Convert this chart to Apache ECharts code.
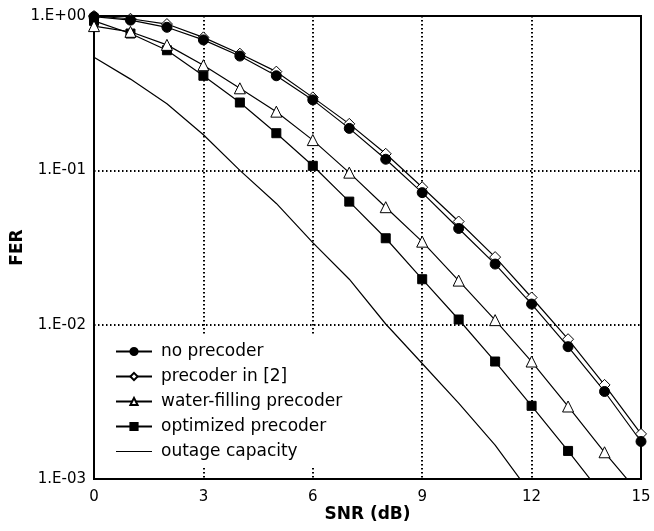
<!DOCTYPE html>
<html>
<head>
<meta charset="utf-8">
<script src="https://cdn.jsdelivr.net/npm/echarts@6/dist/echarts.min.js"></script>
<style>
  html, body { margin: 0; padding: 0; background: #fff; }
  #chart { width: 654px; height: 531px; }
</style>
</head>
<body>
<div id="chart"></div>
<script>
var myChart = echarts.init(document.getElementById('chart'));

// SNR (dB) points
var snr = [0, 1, 2, 3, 4, 5, 6, 7, 8, 9, 10, 11, 12, 13, 14, 15];
var xTicks = [0, 3, 6, 9, 12, 15];

// FER
var noPrecoder   = [0.99, 0.94, 0.845, 0.70, 0.55, 0.41, 0.286, 0.187, 0.118, 0.0717, 0.042, 0.0247, 0.0136, 0.0072, 0.00369, 0.00175];
var precoderIn2  = [1.0, 0.96, 0.887, 0.727, 0.57, 0.436, 0.297, 0.20, 0.128, 0.0777, 0.0466, 0.0274, 0.015, 0.00805, 0.00407, 0.00196];
var waterFilling = [0.86, 0.79, 0.65, 0.48, 0.34, 0.24, 0.157, 0.0966, 0.0577, 0.0345, 0.0193, 0.0107, 0.00577, 0.00295, 0.00149, 0.00078];
var optimized    = [0.93, 0.77, 0.60, 0.41, 0.275, 0.174, 0.107, 0.0627, 0.0363, 0.0197, 0.0108, 0.00577, 0.00298, 0.00152, 0.00076];
var outage       = [0.54, 0.39, 0.27, 0.17, 0.10, 0.061, 0.034, 0.0197, 0.0101, 0.0056, 0.0031, 0.00166, 0.00079];

var names = ['no precoder', 'precoder in [2]', 'water-filling precoder', 'optimized precoder', 'outage capacity'];

var font = 'DejaVu Sans';

function pairs(arr) {
    var list = [];
    for (var i = 0; i < arr.length; i++) {
        list.push([snr[i], arr[i]]);
    }
    return list;
}

function lineSeries(name, arr, symbol, size, fill) {
    return {
        name: name,
        type: 'line',
        data: pairs(arr),
        symbol: symbol,
        symbolSize: size,
        showSymbol: symbol !== 'none',
        lineStyle: { color: '#000', width: 1.2 },
        itemStyle: { color: fill, borderColor: '#000', borderWidth: 1 },
        emphasis: { disabled: true },
        animation: false
    };
}

// legend entries; the plain line gets a thin bar icon
var legendData = names.map(function (n) {
    if (n === 'outage capacity') {
        return { name: n, icon: 'path://M0,0 H36 V1.2 H0 Z', itemStyle: { color: '#000', borderWidth: 0 } };
    }
    return { name: n };
});

var option = {
    backgroundColor: '#fff',
    grid: {
        left: 94, right: 13, top: 16, bottom: 52,
        outerBoundsMode: 'none',
        containLabel: false,
        show: true,
        borderColor: '#000',
        borderWidth: 2
    },
    legend: {
        orient: 'vertical',
        left: 98,
        top: 335,
        data: legendData,
        backgroundColor: '#fff',
        padding: [8, 6, 8, 17],
        itemWidth: 36,
        itemHeight: 9,
        itemGap: 8,
        textStyle: { color: '#000', fontSize: 17, fontFamily: font, lineHeight: 17, padding: [0, 0, 0, 4] },
        selectedMode: false
    },
    xAxis: {
        type: 'value',
        min: 0, max: 15, interval: 3,
        name: 'SNR (dB)',
        nameLocation: 'middle',
        nameGap: 27,
        nameMoveOverlap: false,
        nameTextStyle: { color: '#000', fontSize: 17, fontWeight: 'bold', fontFamily: font },
        axisLine: { lineStyle: { color: '#000', width: 2 } },
        axisTick: { show: false },
        axisLabel: {
            color: '#000', fontSize: 15, fontFamily: font, margin: 11,
            customValues: xTicks
        },
        splitLine: { lineStyle: { color: '#000', width: 2, type: [1.5, 2.5] } }
    },
    yAxis: {
        type: 'log',
        logBase: 10,
        min: 0.001, max: 1,
        name: 'FER',
        nameLocation: 'middle',
        nameRotate: 90,
        nameGap: 68,
        nameMoveOverlap: false,
        nameTextStyle: { color: '#000', fontSize: 17, fontWeight: 'bold', fontFamily: font },
        axisLine: { lineStyle: { color: '#000', width: 2 } },
        axisTick: { show: false },
        axisLabel: {
            color: '#000', fontSize: 15, fontFamily: font, margin: 8,
            formatter: function (v) {
                var e = Math.round(Math.log10(v));
                var s = e < 0 ? '-' : '+';
                var a = Math.abs(e);
                return '1.E' + s + (a < 10 ? '0' : '') + a;
            }
        },
        splitLine: { lineStyle: { color: '#000', width: 2, type: [1.5, 2.5] } }
    },
    series: [
        lineSeries('outage capacity', outage, 'none', 0, '#000'),
        lineSeries('optimized precoder', optimized, 'rect', 9, '#000'),
        lineSeries('water-filling precoder', waterFilling, 'triangle', 11, '#fff'),
        lineSeries('precoder in [2]', precoderIn2, 'diamond', 11, '#fff'),
        lineSeries('no precoder', noPrecoder, 'circle', 10, '#000')
    ]
};

myChart.setOption(option);
</script>
</body>
</html>
